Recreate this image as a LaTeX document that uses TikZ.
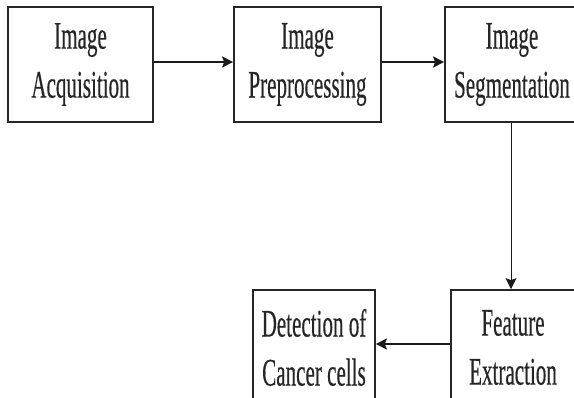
\documentclass[tikz,border=0pt]{standalone}
\usepackage{fontspec}
\setmainfont{Liberation Serif}[FakeStretch=0.54,FakeBold=0.3]
\usepackage{tikz}
\usetikzlibrary{arrows.meta}

\tikzset{
  stagebox/.style={draw=black!85, line width=1.7pt, minimum height=115pt, inner sep=0pt,
    align=center, text=black!85, font=\fontsize{39}{49}\selectfont},
  flow/.style={-{Stealth[length=11pt,width=11pt,inset=2pt]}, line width=2.2pt, draw=black!90}
}

\begin{document}
\begin{tikzpicture}[x=1pt,y=-1pt]
\clip (0,0) rectangle (574,398);
\fill[white] (0,0) rectangle (574,398);
% top row
\node[stagebox, minimum width=145pt] (acq) at (80.5,64.5) {Image\\Acquisition};
\node[stagebox, minimum width=147pt] (pre) at (307.5,64.5) {Image\\Preprocessing};
\node[stagebox, minimum width=134pt] (seg) at (512,64.5) {Image\\Segmentation};
% bottom row
\node[stagebox, minimum width=122pt] (det) at (314,347.5) {Detection of\\Cancer cells};
\node[stagebox, minimum width=124pt] (feat) at (513,347.5) {Feature\\Extraction};
% connectors
\draw[flow] ([yshift=2.5pt]acq.east) -- ([yshift=2.5pt]pre.west);
\draw[flow] ([yshift=2.5pt]pre.east) -- ([yshift=2.5pt]seg.west);
\draw[flow, line width=0.9pt] ([xshift=-1pt]seg.south) -- ([xshift=-1pt]seg.south |- feat.north);
\draw[flow] ([yshift=3.5pt]feat.west) -- ([yshift=3.5pt]det.east);
\end{tikzpicture}
\end{document}
